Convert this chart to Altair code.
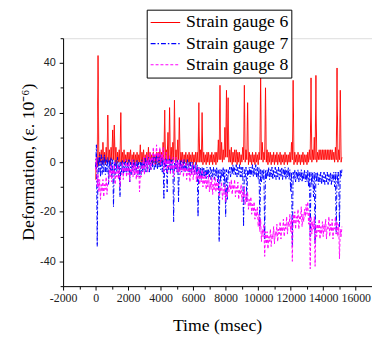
import altair as alt
import pandas as pd

# Sampling clock (msec); every sample holds the low and the high reading of the noisy trace
TIME_MS = list(range(0, 15101, 100))
HALF_STEP = 50

GAUGE_6_HI = [
    2, 43, 4, 5, 8, 4, 6, 19, 5, 6,
    13, 15, 6, 4, 5, 20, 4, 5, 3, 4,
    4, 5, 3, 4, 3, 4, 3, 7, 4, 5,
    3, 4, 6, 4, 3, 4, 3, 4, 4, 5,
    4, 8, 21, 5, 12, 22, 6, 8, 25, 5,
    9, 18, 4, 4, 3, 4, 3, 4, 3, 4,
    3, 4, 4, 24, 5, 20, 4, 3, 4, 4,
    3, 4, 3, 4, 4, 9, 31, 8, 5, 14,
    29, 26, 5, 6, 4, 5, 5, 4, 4, 3,
    6, 31, 5, 24, 4, 3, 4, 3, 4, 3,
    4, 34, 8, 4, 30, 5, 4, 4, 3, 4,
    3, 4, 3, 4, 3, 3, 4, 3, 3, 4,
    8, 33, 4, 3, 4, 3, 3, 4, 3, 3,
    4, 5, 34, 5, 10, 35, 4, 5, 5, 5,
    5, 5, 5, 5, 5, 5, 4, 6, 38, 5,
    29, 2,
]
GAUGE_6_LO = [
    -7, -2, -1, 0, -1, 0, -1, 0, 0, -1,
    1, 1, 0, -1, 0, 0, -1, 0, -1, 0,
    -1, 0, -1, 0, -1, 0, -1, 0, -1, 0,
    -1, 0, 0, -1, 0, -1, 0, -1, 0, -1,
    0, 0, 1, 0, 1, 1, 0, 0, 1, 0,
    0, 1, -1, 0, -1, 0, -1, 0, -1, 0,
    -1, 0, -1, 0, 0, 0, -1, 0, -1, 0,
    -1, 0, -1, 0, -1, 0, 1, 1, 0, 1,
    2, 2, 0, 0, -1, 0, 0, -1, 0, -1,
    0, 1, 0, 1, -1, 0, -1, 0, -1, 0,
    -1, 1, 1, 0, 1, 0, -1, 0, -1, 0,
    -1, 0, -1, 0, -1, 0, -1, 0, -1, 0,
    0, 1, -1, 0, -1, 0, -1, 0, -1, 0,
    -1, 0, 1, 0, 1, 1, 0, 1, 1, 1,
    1, 1, 1, 1, 1, 1, 1, 0, 1, 0,
    1, 0,
]

GAUGE_7_HI = [
    7, 2, 3, 3, 2, 3, 1, 2, 1, 2,
    1, 0, 1, 2, 0, 0, 1, 0, 1, 0,
    1, 0, 0, 1, 0, 1, 0, 0, 1, 0,
    2, 1, 2, 1, 2, 3, 2, 3, 2, 3,
    2, 2, 1, 2, 1, 2, 1, 1, 0, 1,
    1, 0, 1, 0, 1, 0, 1, 0, 0, 0,
    -1, 0, -1, -2, -2, -2, -2, -3, -2, -3,
    -2, -3, -2, -3, -2, -3, -3, -3, -2, -3,
    -3, -3, -2, -2, -1, -2, -1, -2, -1, -2,
    -2, -3, -2, -3, -2, -2, -1, -2, -1, -2,
    -2, -3, -3, -3, -3, -3, -2, -3, -2, -3,
    -2, -3, -2, -3, -2, -3, -2, -3, -2, -3,
    -4, -4, -3, -4, -3, -4, -3, -4, -3, -4,
    -3, -4, -4, -4, -4, -4, -4, -5, -4, -5,
    -4, -5, -4, -5, -4, -5, -4, -4, -4, -4,
    -3, -3,
]
GAUGE_7_LO = [
    -2, -34, -4, -6, -5, -4, -5, -4, -9, -4,
    -6, -18, -5, -4, -6, -14, -4, -5, -4, -5,
    -4, -8, -5, -4, -5, -4, -5, -6, -5, -4,
    -3, -4, -3, -4, -3, -2, -3, -2, -3, -2,
    -3, -4, -15, -3, -12, -3, -4, -3, -24, -3,
    -4, -16, -3, -4, -3, -4, -3, -4, -4, -5,
    -4, -5, -5, -22, -6, -7, -6, -6, -7, -6,
    -6, -7, -6, -7, -6, -8, -32, -8, -6, -10,
    -22, -15, -5, -6, -5, -5, -5, -6, -5, -6,
    -6, -26, -6, -16, -5, -6, -5, -6, -5, -6,
    -7, -26, -8, -7, -31, -7, -6, -7, -6, -7,
    -6, -7, -6, -7, -6, -7, -6, -7, -6, -7,
    -12, -34, -7, -8, -7, -8, -7, -8, -7, -8,
    -8, -10, -30, -9, -14, -33, -8, -9, -8, -9,
    -8, -9, -8, -9, -8, -9, -8, -10, -29, -9,
    -26, -6,
]

GAUGE_8_HI = [
    2, -5, -7, -9, -7, -9, -6, -8, -3, -1,
    -3, 0, -4, -1, -2, -5, 0, -2, 1, -1,
    0, -3, 1, -1, 0, -2, -1, -5, -1, 2,
    0, 3, 1, 4, 2, 6, 3, 7, 4, 6,
    3, 6, 1, 4, 1, 3, 0, 2, -1, 2,
    0, 1, -1, 1, -2, 0, -3, -1, -3, -1,
    -3, -1, -4, -2, -5, -3, -6, -4, -7, -5,
    -8, -6, -9, -6, -8, -7, -10, -8, -11, -9,
    -12, -10, -8, -7, -9, -7, -10, -8, -11, -9,
    -12, -10, -13, -12, -15, -14, -17, -16, -19, -18,
    -21, -23, -27, -25, -28, -28, -30, -27, -29, -26,
    -28, -25, -27, -24, -26, -23, -25, -22, -24, -21,
    -23, -21, -20, -22, -19, -22, -18, -21, -19, -17,
    -16, -20, -22, -24, -22, -25, -25, -23, -26, -24,
    -25, -23, -26, -22, -25, -23, -26, -22, -24, -25,
    -27, -26,
]
GAUGE_8_LO = [
    -3, -10, -12, -15, -12, -14, -11, -13, -8, -6,
    -8, -5, -9, -6, -7, -10, -5, -7, -4, -6,
    -5, -8, -4, -6, -5, -7, -6, -12, -6, -3,
    -5, -2, -4, -1, -3, 1, -1, 2, 0, 1,
    -1, 1, -4, -1, -4, -2, -5, -3, -6, -2,
    -4, -4, -5, -3, -6, -4, -7, -5, -8, -5,
    -7, -5, -8, -7, -9, -8, -10, -9, -11, -10,
    -12, -11, -13, -11, -12, -11, -14, -12, -15, -13,
    -16, -14, -12, -11, -13, -11, -14, -12, -15, -13,
    -16, -14, -17, -16, -19, -18, -21, -20, -23, -22,
    -26, -28, -32, -30, -38, -33, -35, -32, -34, -31,
    -33, -30, -32, -29, -31, -28, -30, -27, -29, -26,
    -28, -40, -25, -27, -24, -27, -23, -26, -24, -22,
    -21, -25, -43, -29, -27, -42, -30, -28, -31, -29,
    -30, -28, -31, -27, -30, -28, -31, -27, -29, -30,
    -39, -30,
]

SERIES = ["Strain gauge 6", "Strain gauge 7", "Strain gauge 8"]
COLORS = ["#FF0000", "#0000FF", "#FF00FF"]
DASHES = [[1, 0], [5, 2, 1.5, 2], [3, 2]]

X_TITLE = "Time (msec)"
Y_TITLE = "Deformation, (ε. 10⁻⁶)"

X_TICKS = list(range(-2000, 16001, 1000))
Y_TICKS = list(range(-50, 51, 10))

rows = []
for name, lo, hi in zip(
    SERIES,
    [GAUGE_6_LO, GAUGE_7_LO, GAUGE_8_LO],
    [GAUGE_6_HI, GAUGE_7_HI, GAUGE_8_HI],
):
    for t, a, b in zip(TIME_MS, lo, hi):
        rows.append({"t": t, "v": a, "series": name})
        rows.append({"t": t + HALF_STEP, "v": b, "series": name})
df = pd.DataFrame(rows)

serif = "Liberation Serif"
sans = "Liberation Sans"

x_axis = alt.Axis(
    values=X_TICKS,
    labelExpr="datum.value % 2000 === 0 ? '' + datum.value : ''",
    tickSize={"condition": {"test": "datum.value % 2000 === 0", "value": 4}, "value": 3},
    labelFont=serif, labelFontSize=12, labelColor="#222", labelPadding=3,
    domainColor="black", tickColor="black", grid=False, labelFlush=False,
    title=None,
)
y_axis = alt.Axis(
    values=Y_TICKS,
    labelExpr="datum.value % 20 === 0 ? '' + datum.value : ''",
    tickSize={"condition": {"test": "datum.value % 20 === 0", "value": 4}, "value": 3},
    labelFont=sans, labelFontSize=11, labelColor="#222", labelPadding=4,
    domainColor="black", tickColor="black", grid=False, labelFlush=False,
    title=None,
)

lines = alt.Chart(df).mark_line(strokeWidth=1, clip=True).encode(
    x=alt.X("t:Q", scale=alt.Scale(domain=[-2000, 17000], nice=False, zero=False), axis=x_axis),
    y=alt.Y("v:Q", scale=alt.Scale(domain=[-50, 50], nice=False), axis=y_axis),
    color=alt.Color("series:N", scale=alt.Scale(domain=SERIES, range=COLORS), title=None,
                    legend=alt.Legend(
                        orient="none", legendX=85, legendY=-29,
                        labelFont=serif, labelFontSize=18, labelColor="black",
                        symbolType="stroke", symbolSize=900, symbolStrokeWidth=1.2,
                        strokeColor="black", fillColor="white", padding=3,
                        clipHeight=20, rowPadding=1.5, labelOffset=5, labelLimit=300,
                    )),
    strokeDash=alt.StrokeDash("series:N", scale=alt.Scale(domain=SERIES, range=DASHES), title=None),
    order=alt.Order("t:Q"),
)

titles = pd.DataFrame({"x_title": [X_TITLE], "y_title": [Y_TITLE]})

x_title = alt.Chart(titles).mark_text(
    font=serif, fontSize=18, fontWeight="normal", color="black",
    align="center", baseline="alphabetic",
).encode(text="x_title:N", x=alt.value(157), y=alt.value(298))

y_title = alt.Chart(titles).mark_text(
    font=serif, fontSize=18, fontWeight="normal", color="black",
    align="center", baseline="middle", angle=270,
).encode(text="y_title:N", x=alt.value(-35), y=alt.value(126))

chart = alt.layer(lines, x_title, y_title).properties(
    width=314, height=252,
    padding={"left": 56, "top": 28, "right": 0, "bottom": 50},
    autosize=alt.AutoSizeParams(type="none"),
).configure_view(stroke=None).configure(background="white")

chart.save("out.html", embed_options={"renderer": "svg", "actions": False})
